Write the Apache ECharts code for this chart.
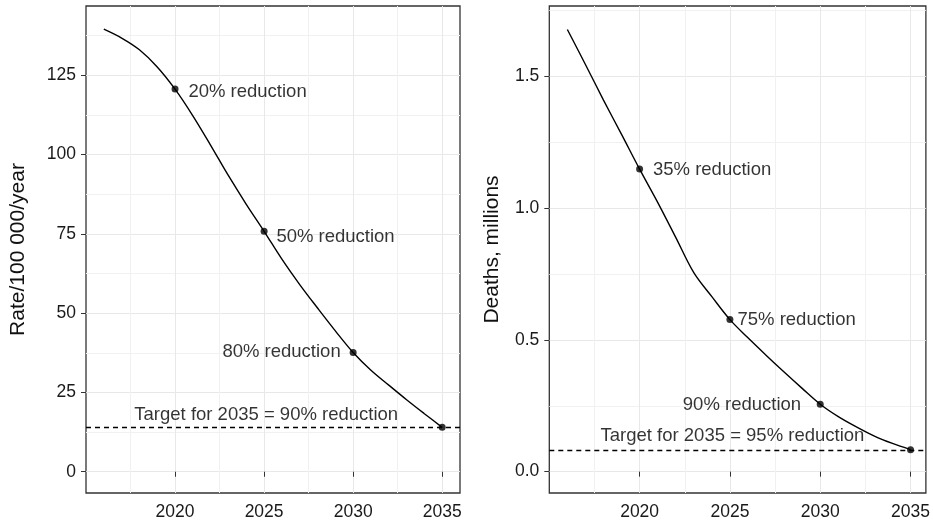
<!DOCTYPE html>
<html>
<head>
<meta charset="utf-8">
<script src="https://cdn.jsdelivr.net/npm/echarts@6/dist/echarts.min.js"></script>
<style>
html,body{margin:0;padding:0;background:#fff;}
#chart{width:933px;height:524px;}
</style>
</head>
<body>
<div id="chart"></div>
<script>
// ---- data ----
const years = [2016,2017,2018,2019,2020,2021,2022,2023,2024,2025,2026,2027,2028,2029,2030,2031,2032,2033,2034,2035];
const rateValues = [139.5,136.7,133.0,127.6,120.6,112.2,102.9,93.3,84.3,75.8,67.0,59.0,51.6,44.4,37.6,32.0,27.3,22.7,18.3,14.0];
const deathValues = [1.678,1.545,1.41,1.28,1.148,1.022,0.889,0.755,0.664,0.577,0.508,0.442,0.378,0.316,0.256,0.209,0.170,0.135,0.107,0.0835];
const markedYears = [2020,2025,2030,2035];
const xTickLabels = [2020,2025,2030,2035];
const xMinorGrid = [2017.5,2022.5,2027.5,2032.5];
const rateTicks = [0,25,50,75,100,125];
const rateMinorGrid = [12.5,37.5,62.5,87.5,112.5,137.5];
const deathTicks = [0,0.5,1.0,1.5];
const deathMinorGrid = [0.25,0.75,1.25,1.75];
const rateTarget = 13.95;
const deathTarget = 0.0835;
const rateTitle = 'Rate/100 000/year';
const deathTitle = 'Deaths, millions';
// annotations: text, anchor x (year), anchor y (value), anchor side
const rateNoteText = ['20% reduction','50% reduction','80% reduction','Target for 2035 = 90% reduction'];
const rateNoteX = [2020.75,2025.69,2029.3,2025.12];
const rateNoteY = [119.8,74.1,37.8,17.9];
const rateNoteAnchor = ['start','start','end','middle'];
const deathNoteText = ['35% reduction','75% reduction','90% reduction','Target for 2035 = 95% reduction'];
const deathNoteX = [2020.74,2025.42,2028.94,2025.14];
const deathNoteY = [1.144,0.574,0.254,0.134];
const deathNoteAnchor = ['start','start','end','middle'];

// ---- chart ----
const FONT = '"Liberation Sans", Arial, Helvetica, sans-serif';
const chart = echarts.init(document.getElementById('chart'), null, {renderer:'canvas'});

const grids = [
  {left:86, right:473, top:6, bottom:31},
  {left:549.3, right:5.7, top:6, bottom:31}
];
const xRanges = [[2015,2036],[2015,2035.85]];
const yRanges = [[-6.7,146.8],[-0.081,1.767]];

function gridOpt(g){
  return Object.assign({show:true, borderColor:'#333', borderWidth:1.3, backgroundColor:'transparent', containLabel:false}, g);
}
function visX(i){
  return {gridIndex:i, type:'value', min:xRanges[i][0], max:xRanges[i][1],
    axisLine:{show:false},
    axisTick:{show:true, length:5, lineStyle:{color:'#333', width:1}, customValues:xTickLabels},
    axisLabel:{customValues:xTickLabels, color:'#1a1a1a', fontSize:17.5, fontFamily:FONT, margin:10, formatter:v=>String(v)},
    splitLine:{show:true, lineStyle:{color:'#e8e8e8', width:1}}};
}
function minorX(i){
  return {gridIndex:i, type:'value', min:xRanges[i][0], max:xRanges[i][1], show:true,
    axisLine:{show:false}, axisTick:{show:false, customValues:xMinorGrid}, axisLabel:{show:false},
    splitLine:{show:true, lineStyle:{color:'#f1f1f1', width:1}}};
}
function visY(i, ticks, name, gap, fmt){
  return {gridIndex:i, type:'value', min:yRanges[i][0], max:yRanges[i][1],
    name:name, nameLocation:'middle', nameGap:gap, nameRotate:90,
    nameTextStyle:{fontSize:21, color:'#111', fontFamily:FONT},
    axisLine:{show:false},
    axisTick:{show:true, length:5, lineStyle:{color:'#333', width:1}, customValues:ticks},
    axisLabel:{customValues:ticks, color:'#1a1a1a', fontSize:17.5, fontFamily:FONT, margin:10, formatter:fmt},
    splitLine:{show:true, lineStyle:{color:'#e8e8e8', width:1}}};
}
function minorY(i, vals){
  return {gridIndex:i, type:'value', min:yRanges[i][0], max:yRanges[i][1], show:true,
    axisLine:{show:false}, axisTick:{show:false, customValues:vals}, axisLabel:{show:false},
    splitLine:{show:true, lineStyle:{color:'#f1f1f1', width:1}}};
}

function lineSeries(i, vals, target){
  return {type:'line', xAxisIndex:i, yAxisIndex:i, data:years.map((y,k)=>[y, vals[k]]),
    showSymbol:false, smooth:0.35, silent:true, z:3,
    lineStyle:{color:'#000', width:1.4},
    markLine:{silent:true, symbol:['none','none'], label:{show:false},
      lineStyle:{color:'#000', width:1.3, type:[5,4]},
      data:[{yAxis:target}]}};
}
function pointSeries(i, vals){
  return {type:'scatter', xAxisIndex:i, yAxisIndex:i, silent:true, z:4,
    data:markedYears.map(y=>[y, vals[years.indexOf(y)]]),
    symbol:'circle', symbolSize:7, itemStyle:{color:'#000'}};
}
function noteSeries(i, texts, xs, ys, anchors){
  const posMap = {start:'right', end:'left', middle:'inside'};
  return {type:'scatter', xAxisIndex:i, yAxisIndex:i, silent:true, z:5, symbolSize:0,
    data:texts.map((t,k)=>({value:[xs[k], ys[k]], name:t,
      label:{show:true, position:posMap[anchors[k]], distance:0, formatter:t,
        color:'#000', fontSize:18.5, fontFamily:FONT}}))};
}

chart.setOption({
  animation:false,
  backgroundColor:'#fff',
  textStyle:{fontFamily:FONT},
  grid:[gridOpt(grids[0]), gridOpt(grids[1])],
  xAxis:[visX(0), visX(1), minorX(0), minorX(1)],
  yAxis:[
    visY(0, rateTicks, rateTitle, 57, v=>String(v)),
    visY(1, deathTicks, deathTitle, 47, v=>Number(v).toFixed(1)),
    minorY(0, rateMinorGrid),
    minorY(1, deathMinorGrid)
  ],
  series:[
    lineSeries(0, rateValues, rateTarget),
    lineSeries(1, deathValues, deathTarget),
    pointSeries(0, rateValues),
    pointSeries(1, deathValues),
    noteSeries(0, rateNoteText, rateNoteX, rateNoteY, rateNoteAnchor),
    noteSeries(1, deathNoteText, deathNoteX, deathNoteY, deathNoteAnchor)
  ]
});
</script>
</body>
</html>
